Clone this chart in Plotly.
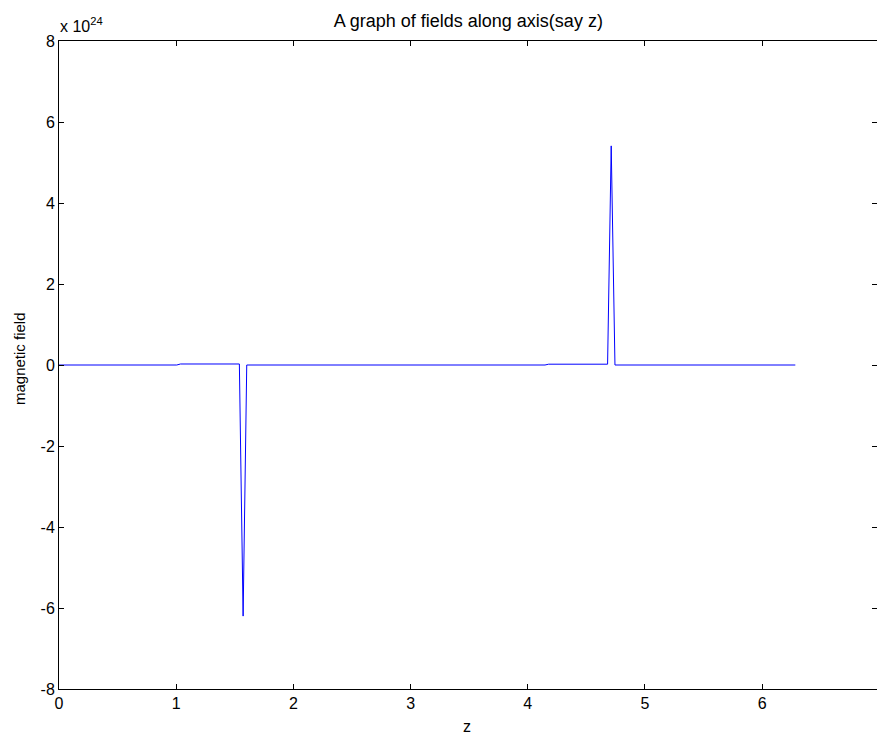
import plotly.graph_objects as go

# data (field in units of 1e24)
z = [0.0, 1.005, 1.037, 1.539, 1.571, 1.602, 4.147, 4.178, 4.681, 4.712, 4.744, 6.283]
field = [0.0, 0.0, 0.025, 0.025, -6.2, 0.0, 0.0, 0.02, 0.02, 5.41, 0.0, 0.0]

x_ticks = [0, 1, 2, 3, 4, 5, 6]
y_ticks = [-8, -6, -4, -2, 0, 2, 4, 6, 8]
y_tick_labels = ["-8", "-6", "-4", "-2", "0", "2", "4", "6", "8"]

FONT = "Liberation Sans, Arial, sans-serif"

fig = go.Figure()
fig.add_trace(go.Scatter(x=z, y=field, mode="lines",
                         line=dict(color="#0000ff", width=1),
                         showlegend=False, hoverinfo="skip"))
fig.add_trace(go.Scatter(x=[], y=[], yaxis="y2", showlegend=False))

fig.update_layout(
    width=877, height=734,
    margin=dict(l=59, r=0, t=41, b=45, autoexpand=False),
    paper_bgcolor="white", plot_bgcolor="white",
    font=dict(family=FONT, size=16, color="black"),
    title=dict(text="A graph of fields along axis(say z)", x=0.534, xanchor="center",
               y=0.972, yanchor="middle", font=dict(size=18, family=FONT, color="black")),
    xaxis=dict(range=[0, 6.98], tickvals=x_ticks, ticks="inside", ticklen=5,
               tickcolor="black", showline=True, linecolor="black", linewidth=1,
               mirror="ticks", showgrid=False, zeroline=False, automargin=False,
               tickfont=dict(size=16)),
    yaxis=dict(range=[-8, 8], tickvals=y_ticks, ticktext=y_tick_labels,
               ticks="inside", ticklen=5, tickcolor="black", showline=True,
               linecolor="black", linewidth=1, showgrid=False, zeroline=False,
               automargin=False, tickfont=dict(size=16)),
    yaxis2=dict(range=[-8, 8], tickvals=y_ticks, overlaying="y", side="right",
                anchor="x", ticks="inside", ticklen=5, tickcolor="black",
                showline=False, showticklabels=False, showgrid=False, zeroline=False,
                automargin=False),
)

# axis titles
fig.add_annotation(xref="paper", yref="paper", x=0.4984, y=0, xanchor="center",
                   yanchor="middle", yshift=-37, showarrow=False, text="z",
                   font=dict(size=16, family=FONT, color="black"))
fig.add_annotation(xref="paper", yref="paper", x=-0.0489, y=0.5108, xanchor="center",
                   yanchor="middle", textangle=-90, showarrow=False, text="magnetic field",
                   font=dict(size=15, family=FONT, color="black"))
# exponent label
fig.add_annotation(xref="paper", yref="paper", x=0, y=1, xanchor="left", yanchor="bottom",
                   yshift=4, xshift=-1, showarrow=False,
                   text="x 10<sup>24</sup>", font=dict(size=16, family=FONT, color="black"))

fig.write_html("out.html", config={"displayModeBar": False},
               post_script="document.body.style.margin='0';")
